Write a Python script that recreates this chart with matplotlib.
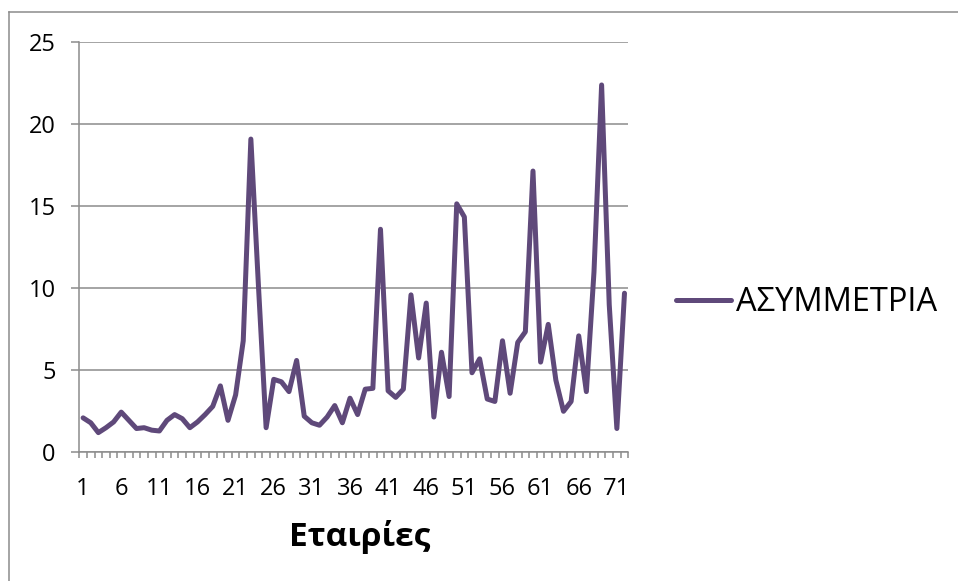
import matplotlib
matplotlib.use("Agg")
import matplotlib.pyplot as plt
from matplotlib.lines import Line2D
from matplotlib.ticker import MultipleLocator, FixedLocator
import numpy as np

plt.rcParams['font.family'] = ['Open Sans', 'DejaVu Sans']

# Asymmetry value per company (companies numbered 1..72)
companies = list(range(1, 73))
asymmetry = [
    2.1, 1.8, 1.2, 1.5, 1.85, 2.45, 1.95, 1.45, 1.5, 1.35,
    1.3, 1.95, 2.3, 2.05, 1.5, 1.85, 2.3, 2.8, 4.05, 1.95,
    3.5, 6.8, 19.1, 10.1, 1.5, 4.45, 4.3, 3.7, 5.6, 2.2,
    1.8, 1.65, 2.15, 2.85, 1.8, 3.3, 2.3, 3.85, 3.9, 13.6,
    3.75, 3.35, 3.85, 9.6, 5.75, 9.1, 2.15, 6.1, 3.4, 15.15,
    14.35, 4.85, 5.7, 3.25, 3.1, 6.8, 3.6, 6.7, 7.35, 17.15,
    5.5, 7.8, 4.4, 2.5, 3.1, 7.1, 3.7, 11.0, 22.4, 9.0,
    1.45, 9.7,
]
x_tick_labels = [str(c) for c in companies[::5]]
series_name = "ΑΣΥΜΜΕΤΡΙΑ"
x_title = "Εταιρίες"

W, H = 958, 581
fig = plt.figure(figsize=(W / 100, H / 100), dpi=100)
ax = fig.add_axes([79.3 / W, 1 - 452.3 / H, 549 / W, 410 / H])

grid_col = "#8c8c8c"
line_col = "#5f497a"

ax.plot(companies, asymmetry, color=line_col, lw=3.6,
        solid_joinstyle="round", solid_capstyle="round", label=series_name,
        zorder=3)

ax.set_xlim(0.5, len(companies) + 0.5)
ax.set_ylim(0, 25)
ax.yaxis.set_major_locator(MultipleLocator(5))
ax.yaxis.grid(True, color=grid_col, lw=1.1)
ax.set_axisbelow(True)

ax.xaxis.set_major_locator(FixedLocator(companies[::5]))
ax.set_xticklabels(x_tick_labels)
ax.xaxis.set_minor_locator(FixedLocator(np.arange(0.5, len(companies) + 1, 1)))

for side in ("top", "right"):
    ax.spines[side].set_visible(False)
for side in ("left", "bottom"):
    ax.spines[side].set_color(grid_col)
    ax.spines[side].set_linewidth(1.1)

ax.tick_params(axis="y", which="major", length=6, width=1.1, color=grid_col,
               direction="out", pad=11, labelsize=17)
ax.tick_params(axis="x", which="major", length=0, pad=18, labelsize=17)
ax.tick_params(axis="x", which="minor", length=4, width=1.1, color=grid_col,
               direction="out")

fig.text(360 / W, 1 - 537 / H, x_title, ha="center", va="center",
         fontsize=24, fontweight="bold")

fig.legend(loc="center left", bbox_to_anchor=(676 / W, 1 - 303 / H),
           frameon=False, fontsize=23.5, handlelength=1.7, handletextpad=0.15,
           borderpad=0, borderaxespad=0)

# outer chart frame (top and left edges)
fig.add_artist(Line2D([9 / W, 1], [1 - 12 / H, 1 - 12 / H], color=grid_col,
                      lw=1.1, transform=fig.transFigure))
fig.add_artist(Line2D([9 / W, 9 / W], [0, 1 - 12 / H], color=grid_col,
                      lw=1.1, transform=fig.transFigure))

fig.savefig("out.png", dpi=100, facecolor="white")
